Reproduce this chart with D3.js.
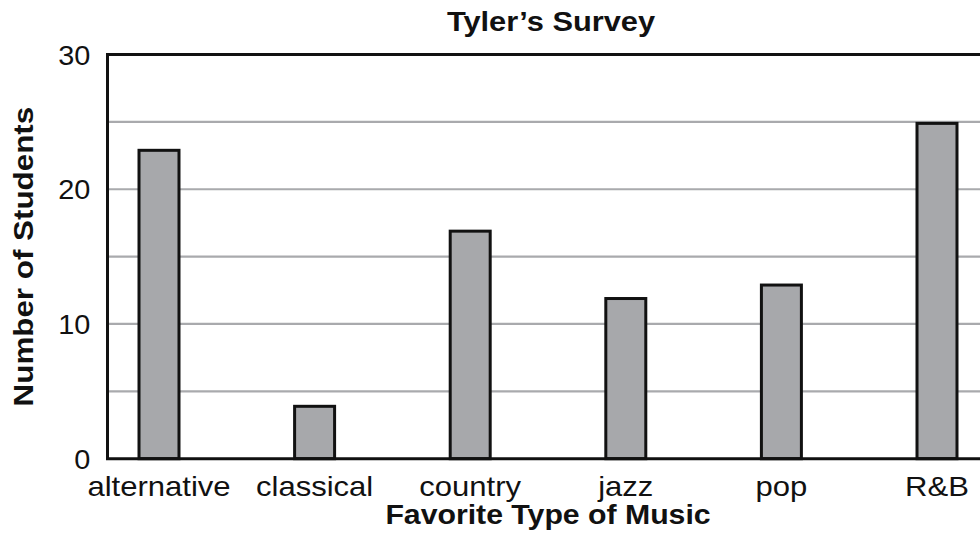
<!DOCTYPE html>
<html>
<head>
<meta charset="utf-8">
<script src="https://cdn.jsdelivr.net/npm/d3@7"></script>
<style>
  html, body { margin: 0; padding: 0; background: #fff; }
  svg { display: block; font-family: "Liberation Sans", Arial, Helvetica, sans-serif; }
</style>
</head>
<body>
<svg id="chart" width="980" height="552"></svg>
<script>
// Survey results: favorite type of music
const categories = ["alternative", "classical", "country", "jazz", "pop", "R&B"];
const students = [23, 4, 17, 12, 13, 25];
const yTicks = [0, 10, 20, 30];
const gridValues = [5, 10, 15, 20, 25];

const svg = d3.select("#chart");

const plot = { left: 107.5, top: 54.5, bottom: 458.7, right: 980 };

const y = d3.scaleLinear().domain([0, 30]).range([plot.bottom, plot.top]);

const x = d3.scaleBand()
  .domain(categories)
  .range([81.2, 1014.8])
  .paddingInner(0.743)
  .paddingOuter(0.3715);

// horizontal grid lines
svg.append("g")
  .selectAll("line")
  .data(gridValues)
  .join("line")
  .attr("x1", plot.left)
  .attr("x2", plot.right)
  .attr("y1", d => y(d))
  .attr("y2", d => y(d))
  .attr("stroke", "#a9aaad")
  .attr("stroke-width", 2.2);

// bars
svg.append("g")
  .selectAll("rect")
  .data(categories)
  .join("rect")
  .attr("x", d => x(d))
  .attr("width", x.bandwidth())
  .attr("y", (d, i) => y(students[i]) + 1.5)
  .attr("height", (d, i) => y(0) - y(students[i]) - 1.5)
  .attr("fill", "#a7a8ab")
  .attr("stroke", "#111")
  .attr("stroke-width", 3);

// frame: top, left and bottom lines
svg.append("path")
  .attr("d", `M${plot.right},${plot.top}H${plot.left}V${plot.bottom}H${plot.right}`)
  .attr("fill", "none")
  .attr("stroke", "#111")
  .attr("stroke-width", 3);

// y tick labels (slightly wide lettering)
const yAxis = svg.append("g")
  .attr("transform", `translate(${plot.left},0)`)
  .call(d3.axisLeft(y).tickValues(yTicks).tickSize(0).tickPadding(16).tickFormat(d3.format("d")));
yAxis.select(".domain").remove();
yAxis.selectAll("text")
  .attr("font-size", 27)
  .attr("font-family", "Liberation Sans, Arial, sans-serif")
  .attr("fill", "#111")
  .attr("dy", "0.36em")
  .attr("transform", "scale(1.07,1)");

// x category labels
const xAxis = svg.append("g")
  .attr("transform", `translate(0,${plot.bottom})`)
  .call(d3.axisBottom(x).tickSize(0).tickPadding(0));
xAxis.select(".domain").remove();
xAxis.selectAll("text")
  .attr("font-size", 27)
  .attr("font-family", "Liberation Sans, Arial, sans-serif")
  .attr("fill", "#111")
  .attr("dy", null)
  .attr("y", 37)
  .attr("transform", "scale(1.15,1)");

// title
svg.append("text")
  .attr("transform", "translate(551,31) scale(1.1,1)")
  .attr("text-anchor", "middle")
  .attr("font-size", 28)
  .attr("font-weight", "bold")
  .attr("fill", "#111")
  .text("Tyler’s Survey");

// x axis title
svg.append("text")
  .attr("transform", "translate(548,524) scale(1.08,1)")
  .attr("text-anchor", "middle")
  .attr("font-size", 28)
  .attr("font-weight", "bold")
  .attr("fill", "#111")
  .text("Favorite Type of Music");

// y axis title
svg.append("text")
  .attr("transform", `translate(33,${(plot.top + plot.bottom) / 2}) rotate(-90) scale(1.12,1)`)
  .attr("text-anchor", "middle")
  .attr("font-size", 28)
  .attr("font-weight", "bold")
  .attr("fill", "#111")
  .text("Number of Students");
</script>
</body>
</html>
